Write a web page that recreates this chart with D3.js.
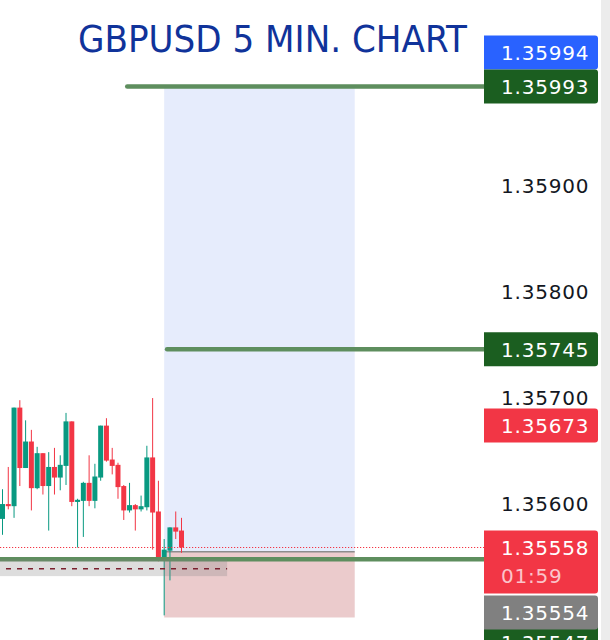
<!DOCTYPE html>
<html>
<head>
<meta charset="utf-8">
<script src="https://cdn.jsdelivr.net/npm/d3@7"></script>
<style>
  html, body { margin: 0; padding: 0; background: #fff; }
  svg { display: block; }
</style>
</head>
<body>
<svg id="chart"></svg>
<script>
const width = 610;
const height = 640;
const plotRight = 484;

// candles, oldest first
const opens  = [1.35585,1.35599,1.35597,1.35690,1.35633,1.35658,1.35614,1.35647,1.35616,1.35634,1.35624,1.35635,1.35677,1.35601,1.35602,1.35619,1.35602,1.35624,1.35673,1.35641,1.35636,1.35616,1.35593,1.35598,1.35594,1.35596,1.35643,1.35592,1.35549,1.35555,1.35577,1.35574];
const closes = [1.35599,1.35597,1.35690,1.35633,1.35658,1.35614,1.35647,1.35616,1.35634,1.35624,1.35636,1.35677,1.35601,1.35603,1.35619,1.35602,1.35625,1.35673,1.35640,1.35635,1.35615,1.35593,1.35598,1.35594,1.35597,1.35643,1.35591,1.35549,1.35556,1.35577,1.35573,1.35558];
const highs  = [1.35613,1.35634,1.35690,1.35697,1.35678,1.35669,1.35653,1.35647,1.35648,1.35652,1.35645,1.35685,1.35677,1.35604,1.35620,1.35645,1.35637,1.35673,1.35680,1.35652,1.35638,1.35617,1.35619,1.35599,1.35607,1.35654,1.35699,1.35621,1.35566,1.35577,1.35592,1.35586];
const lows   = [1.35570,1.35594,1.35586,1.35616,1.35633,1.35593,1.35613,1.35608,1.35574,1.35608,1.35612,1.35617,1.35597,1.35558,1.35568,1.35597,1.35595,1.35621,1.35639,1.35627,1.35604,1.35584,1.35591,1.35574,1.35592,1.35593,1.35556,1.35545,1.35494,1.35527,1.35566,1.35553];

const tickValues = [1.35900, 1.35800, 1.35700, 1.35600];

// long position tool
const entryPrice = 1.35554;
const targetPrice = 1.35993;
const stopPrice = 1.35492;
const positionBars = [28, 61];

// horizontal levels and where they start (bar index)
const levelPrices = [1.35993, 1.35745, 1.35547];
const levelStart = [21.6, 28.5, -1];

// grey band with dashed line
const bandTop = 1.35547;
const bandBottom = 1.35531;
const bandDash = 1.35538;
const bandEnd = 38.9;

const lastPrice = 1.35558;
const countdown = '01:59';

// price scale labels, in placing order
const labelValues = [1.35993, 1.35745, 1.35673, 1.35558, 1.35994, 1.35554, 1.35547];
const labelColors = ['#1b5e20', '#1b5e20', '#f23645', '#f23645', '#2962ff', '#808080', '#1b5e20'];

const font = '"DejaVu Sans", sans-serif';

const svg = d3.select('#chart')
  .attr('width', width)
  .attr('height', height)

const x = d3.scaleLinear()
  .domain([0, opens.length - 1])
  .range([2.5, 181.5])

const y = d3.scaleLinear()
  .domain([1.35900, 1.35600])
  .range([185, 503])

const plot = svg.append('g')

// position zones
plot.append('rect')
  .attr('x', x(positionBars[0]))
  .attr('y', y(targetPrice))
  .attr('width', x(positionBars[1]) - x(positionBars[0]))
  .attr('height', y(entryPrice) - y(targetPrice))
  .attr('fill', '#e6ecfc')

plot.append('rect')
  .attr('x', x(positionBars[0]))
  .attr('y', y(entryPrice))
  .attr('width', x(positionBars[1]) - x(positionBars[0]))
  .attr('height', y(stopPrice) - y(entryPrice))
  .attr('fill', '#ebcbcc')

plot.append('line')
  .attr('x1', x(positionBars[0]))
  .attr('x2', x(positionBars[1]))
  .attr('y1', y(entryPrice))
  .attr('y2', y(entryPrice))
  .attr('stroke', '#8c8c8c')
  .attr('stroke-width', 1.5)

// candles
const candles = plot.selectAll('.candle')
  .data(opens)
  .enter()
  .append('g')
  .attr('class', 'candle')

candles.append('rect')
  .attr('x', (d, i) => x(i) - 0.5)
  .attr('width', 1)
  .attr('y', (d, i) => y(highs[i]))
  .attr('height', (d, i) => y(lows[i]) - y(highs[i]))
  .attr('fill', (d, i) => closes[i] >= d ? '#089981' : '#f23645')

candles.append('rect')
  .attr('x', (d, i) => x(i) - 2.5)
  .attr('width', 5)
  .attr('y', (d, i) => y(Math.max(d, closes[i])))
  .attr('height', (d, i) => Math.max(1, Math.abs(y(d) - y(closes[i]))))
  .attr('fill', (d, i) => closes[i] >= d ? '#089981' : '#f23645')

// levels
plot.selectAll('.level')
  .data(levelPrices)
  .enter()
  .append('line')
  .attr('class', 'level')
  .attr('x1', (d, i) => Math.max(0, x(levelStart[i])))
  .attr('x2', plotRight)
  .attr('y1', d => y(d))
  .attr('y2', d => y(d))
  .attr('stroke', '#5e8e5e')
  .attr('stroke-width', 4.5)
  .attr('stroke-linecap', 'round')

// grey band
plot.append('rect')
  .attr('x', 0)
  .attr('y', y(bandTop))
  .attr('width', x(bandEnd))
  .attr('height', y(bandBottom) - y(bandTop))
  .attr('fill', 'rgba(128,128,128,0.27)')

plot.append('line')
  .attr('x1', 0)
  .attr('x2', x(bandEnd))
  .attr('y1', y(bandDash))
  .attr('y2', y(bandDash))
  .attr('stroke', '#7b1f2e')
  .attr('stroke-width', 1.5)
  .attr('stroke-dasharray', '5,6')
  .attr('stroke-dashoffset', -6)

// last price line
plot.append('line')
  .attr('x1', 0)
  .attr('x2', plotRight)
  .attr('y1', y(lastPrice))
  .attr('y2', y(lastPrice))
  .attr('stroke', '#f23645')
  .attr('stroke-width', 1.2)
  .attr('stroke-dasharray', '1.2,1.8')

// right strip
svg.append('rect')
  .attr('x', 601)
  .attr('y', 0)
  .attr('width', width - 601)
  .attr('height', height)
  .attr('fill', '#ececec')

// axis ticks
const yAxis = d3.axisRight(y)
  .tickValues(tickValues)
  .tickSize(0)
  .tickFormat(d3.format('.5f'))

const axisGroup = svg.append('g')
  .attr('transform', `translate(${plotRight},0)`)
  .call(yAxis)

axisGroup.select('.domain').remove()
axisGroup.selectAll('text')
  .attr('x', 17)
  .attr('dy', '0.36em')
  .attr('text-anchor', 'start')
  .attr('fill', '#131722')
  .style('font-family', font)
  .style('font-size', '20px')
  .style('letter-spacing', '0.8px')

// price labels, pushed apart like the price scale does
const boxH = 34;
const placed = [];
labelValues.forEach((v, i) => {
  const h = i === labelValues.indexOf(lastPrice) ? 63 : boxH;
  let top = y(v) - boxH / 2;
  let moved = true;
  while (moved) {
    moved = false;
    for (const p of placed) {
      if (top < p.top + p.h - 4 && top + h > p.top) {
        if (v > p.v) top = p.top - h;
        else top = p.top + p.h + (p.h > boxH ? 2 : -4);
        moved = true;
      }
    }
  }
  placed.push({ v, top, h, color: labelColors[i], sub: h > boxH ? countdown : null });
})

const bx = plotRight;
const bw = 114;
const r = 3;
const labels = svg.selectAll('.plabel')
  .data(placed.slice().reverse())
  .enter()
  .append('g')
  .attr('class', 'plabel')

labels.append('path')
  .attr('d', d => `M${bx},${d.top} H${bx + bw - r} Q${bx + bw},${d.top} ${bx + bw},${d.top + r} V${d.top + d.h - r} Q${bx + bw},${d.top + d.h} ${bx + bw - r},${d.top + d.h} H${bx} Z`)
  .attr('fill', d => d.color)

labels.append('text')
  .attr('x', bx + 17)
  .attr('y', d => d.top + boxH / 2)
  .attr('dy', '0.36em')
  .attr('fill', '#fff')
  .style('font-family', font)
  .style('font-size', '20px')
  .style('letter-spacing', '0.8px')
  .text(d => d.v.toFixed(5))

labels.filter(d => d.sub)
  .append('text')
  .attr('x', bx + 17)
  .attr('y', d => d.top + boxH / 2 + 28)
  .attr('dy', '0.36em')
  .attr('fill', '#fbc4ca')
  .style('font-family', font)
  .style('font-size', '20px')
  .style('letter-spacing', '0.8px')
  .text(d => d.sub)

// title
svg.append('text')
  .attr('x', 78)
  .attr('y', 52)
  .attr('fill', '#10339a')
  .style('font-family', '"DejaVu Sans Condensed", "DejaVu Sans", sans-serif')
  .style('font-stretch', 'condensed')
  .style('font-size', '38px')
  .text('GBPUSD 5 MIN. CHART')
</script>
</body>
</html>
